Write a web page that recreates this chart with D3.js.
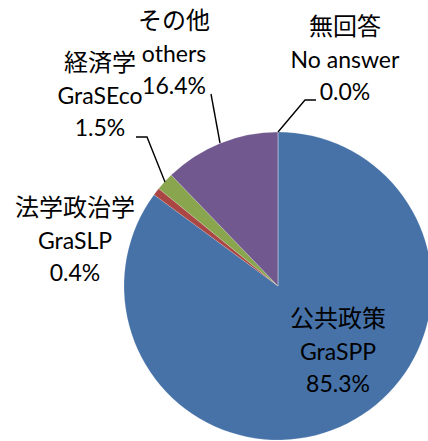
<!DOCTYPE html>
<html>
<head>
<meta charset="utf-8">
<script src="https://cdn.jsdelivr.net/npm/d3@7"></script>
<style>
html,body{margin:0;padding:0;background:#fff;}
svg{display:block;}
</style>
</head>
<body>
<svg id="chart" width="428" height="441"></svg>
<script>
// Data
const categoriesJa = ["公共政策", "法学政治学", "経済学", "その他", "無回答"];
const categoriesEn = ["GraSPP", "GraSLP", "GraSEco", "others", "No answer"];
const values = [85.1, 0.8, 1.9, 12.2, 0.0];          // slice sizes as drawn in the picture
const percentLabels = ["85.3%", "0.4%", "1.5%", "16.4%", "0.0%"]; // label text as printed
const colors = ["#4672A8", "#AA4643", "#89A54E", "#71588F", "#4198AF"];

// Layout
const cx = 278, cy = 286, r = 154;
const labelPos = [
  {x: 338, y: 316},
  {x: 75,  y: 205},
  {x: 100, y: 60},
  {x: 174, y: 18},
  {x: 345, y: 24}
];
const leaders = [
  null,
  null,
  [[165,182],[147,137],[136,137]],
  [[220,143],[211,94]],
  [[278,132],[305,100],[316,100]]
];

const svg = d3.select("#chart");
const data = values.map((v, i) => ({v, i}));
const pie = d3.pie().value(d => d.v).sort(null);
const arc = d3.arc().innerRadius(0).outerRadius(r);

const g = svg.append("g").attr("transform", `translate(${cx},${cy})`);
g.selectAll("path").data(pie(data)).join("path")
  .attr("d", arc)
  .attr("fill", d => colors[d.data.i])
  .attr("stroke", "#ffffff")
  .attr("stroke-opacity", 0.35)
  .attr("stroke-width", 0.5);

// leader lines
const line = d3.line();
svg.selectAll("path.leader").data(leaders.filter(l => l)).join("path")
  .attr("class", "leader")
  .attr("d", d => line(d))
  .attr("fill", "none")
  .attr("stroke", "#000")
  .attr("stroke-width", 1.4);

// labels
const lg = svg.selectAll("g.lab").data(labelPos).join("g").attr("class", "lab")
  .attr("transform", d => `translate(${d.x},${d.y})`);
lg.append("text")
  .attr("text-anchor", "middle").attr("dominant-baseline", "central")
  .attr("font-family", "'Noto Sans CJK JP'").attr("font-size", 24)
  .attr("fill", "#000")
  .text((d, i) => categoriesJa[i]);
lg.append("text")
  .attr("y", 35)
  .attr("text-anchor", "middle").attr("dominant-baseline", "central")
  .attr("font-family", "Lato, 'Noto Sans'").attr("font-size", 23)
  .attr("fill", "#000")
  .text((d, i) => categoriesEn[i]);
lg.append("text")
  .attr("y", 67)
  .attr("text-anchor", "middle").attr("dominant-baseline", "central")
  .attr("font-family", "Lato, 'Noto Sans'").attr("font-size", 23)
  .attr("fill", "#000")
  .text((d, i) => percentLabels[i]);
</script>
</body>
</html>
